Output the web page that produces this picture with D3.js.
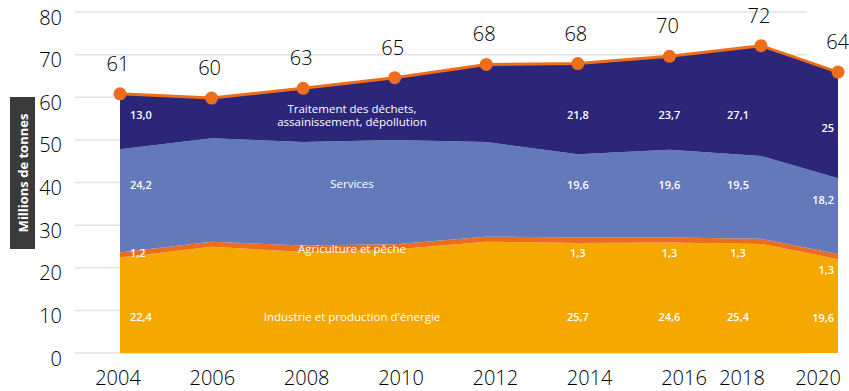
<!DOCTYPE html>
<html lang="fr">
  <head>
    <meta charset="utf-8">
    <title>Millions de tonnes</title>
    <script src="https://d3js.org/d3.v7.min.js"></script>
    <style>
    body { margin: 0; background: #fff; }
    svg { font-family: "Open Sans", sans-serif; display: block; }
    .grid line { stroke: #e3e3e3; stroke-width: 1.5; }
    .tick-label { fill: #000; font-size: 20px; font-weight: 300; }
    .val { fill: #fff; font-size: 11px; font-weight: 600; }
    .cat { fill: #fff; font-size: 11.5px; font-weight: 500; }
    .total { fill: #000; font-size: 20px; font-weight: 300; }
    </style>
  </head>
  <body>
    <svg width="849" height="391"></svg>
    <script>

    // data
    var years = [2004, 2006, 2008, 2010, 2012, 2014, 2016, 2018, 2020];
    var industrie   = [22.4, 24.9, 23.7, 24.3, 26.1, 25.8, 25.9, 25.6, 22.0];
    var agriculture = [1.2, 1.2, 1.5, 1.2, 1.2, 1.3, 1.2, 1.2, 1.2];
    var services    = [24.2, 24.3, 24.3, 24.5, 22.2, 19.5, 20.6, 19.4, 17.8];
    var dechets     = [13.0, 9.4, 12.6, 14.6, 18.2, 21.3, 21.9, 25.9, 24.9];

    var totalLabels = ["61", "60", "63", "65", "68", "68", "70", "72", "64"];
    var industrieLabels   = ["22,4", "", "", "", "", "25,7", "24,6", "25,4", "19,6"];
    var agricultureLabels = ["1,2", "", "", "", "", "1,3", "1,3", "1,3", "1,3"];
    var servicesLabels    = ["24,2", "", "", "", "", "19,6", "19,6", "19,5", "18,2"];
    var dechetsLabels     = ["13,0", "", "", "", "", "21,8", "23,7", "27,1", "25"];

    var yTicks = [0, 10, 20, 30, 40, 50, 60, 70, 80];
    var seriesNames = ["industrie", "agriculture", "services", "dechets"];
    var seriesColors = ["#f5a800", "#ec6e1c", "#6479ba", "#2b2677"];

    var svg = d3.select("svg");

    var x = d3.scaleLinear().domain([2004, 2018, 2020]).range([120, 761, 838]);
    var xLabel = d3.scaleLinear().domain([2004, 2016, 2018, 2020]).range([118, 684, 742, 818]);
    var y = d3.scaleLinear().domain([0, 80]).range([353, 12]);

    var table = years.map(function(yr, i) {
      return {year: yr, industrie: industrie[i], agriculture: agriculture[i],
              services: services[i], dechets: dechets[i]};
    });

    var stack = d3.stack().keys(seriesNames)(table);

    // grid
    svg.append("g").attr("class", "grid")
      .selectAll("line").data(yTicks).enter().append("line")
        .attr("x1", 75).attr("x2", 807)
        .attr("y1", function(d) { return y(d); })
        .attr("y2", function(d) { return y(d); });

    svg.append("g").selectAll("text").data(yTicks).enter().append("text")
        .attr("class", "tick-label")
        .attr("x", 62)
        .attr("y", function(d) { return y(d) + 12.5; })
        .attr("text-anchor", "end")
        .text(function(d) { return d; });

    svg.append("g").selectAll("text").data(years).enter().append("text")
        .attr("class", "tick-label")
        .attr("x", function(d) { return xLabel(d); })
        .attr("y", 385)
        .attr("text-anchor", "middle")
        .text(function(d) { return d; });

    // areas
    var area = d3.area()
        .x(function(d) { return x(d.data.year); })
        .y0(function(d) { return y(d[0]); })
        .y1(function(d) { return y(d[1]); });

    svg.append("g").selectAll("path").data(stack).enter().append("path")
        .attr("fill", function(d, i) { return seriesColors[i]; })
        .attr("d", area);

    // total line (top of the stack)
    var totalSeries = stack[stack.length - 1];
    var line = d3.line()
        .x(function(d) { return x(d.data.year); })
        .y(function(d) { return y(d[1]); });

    svg.append("path").datum(totalSeries)
        .attr("fill", "none")
        .attr("stroke", "#ec6e1c")
        .attr("stroke-width", 3)
        .attr("d", line);

    svg.append("g").selectAll("circle").data(totalSeries).enter().append("circle")
        .attr("cx", function(d) { return x(d.data.year); })
        .attr("cy", function(d) { return y(d[1]); })
        .attr("r", 6.5)
        .attr("fill", "#ec6e1c");

    var last = totalSeries.length - 1;
    svg.append("g").selectAll("text").data(totalSeries).enter().append("text")
        .attr("class", "total")
        .attr("x", function(d, i) { return i == last ? 849 : x(d.data.year) - 2; })
        .attr("y", function(d) { return y(d[1]) - 23; })
        .attr("text-anchor", function(d, i) { return i == last ? "end" : "middle"; })
        .text(function(d, i) { return totalLabels[i]; });

    // value labels
    var rows = [
      {labels: industrieLabels, y: 317, yLast: 318},
      {labels: agricultureLabels, y: 253, yLast: 270},
      {labels: servicesLabels, y: 185, yLast: 200},
      {labels: dechetsLabels, y: 115, yLast: 128}
    ];
    rows.forEach(function(row) {
      svg.append("g").selectAll("text").data(row.labels).enter().append("text")
          .attr("class", "val")
          .attr("x", function(d, i) {
            if (i == 0) return x(years[i]) + 10;
            if (i == last) return x(years[i]) - 4;
            if (i == last - 1) return x(years[i]) - 23;
            return x(years[i]);
          })
          .attr("y", function(d, i) { return i == last ? row.yLast : row.y; })
          .attr("dy", "0.36em")
          .attr("text-anchor", function(d, i) {
            if (i == 0) return "start";
            if (i == last) return "end";
            return "middle";
          })
          .text(function(d) { return d; });
    });

    // series names
    var cats = [
      {lines: ["Industrie et production d'énergie"], y: 317},
      {lines: ["Agriculture et pêche"], y: 249},
      {lines: ["Services"], y: 184},
      {lines: ["Traitement des déchets,", "assainissement, dépollution"], y: 108.5}
    ];
    cats.forEach(function(c) {
      c.lines.forEach(function(t, j) {
        svg.append("text").attr("class", "cat")
            .attr("x", 352).attr("y", c.y + j * 13)
            .attr("dy", "0.36em")
            .attr("text-anchor", "middle")
            .text(t);
      });
    });

    // y axis title
    svg.append("rect")
        .attr("x", 10).attr("y", 97)
        .attr("width", 25).attr("height", 152)
        .attr("fill", "#3a3a3a");
    svg.append("text")
        .attr("transform", "translate(23,173) rotate(-90)")
        .attr("text-anchor", "middle")
        .attr("dy", "0.36em")
        .attr("fill", "#fff")
        .attr("font-size", 13)
        .attr("font-weight", 700)
        .text("Millions de tonnes");

    </script>
  </body>
</html>
